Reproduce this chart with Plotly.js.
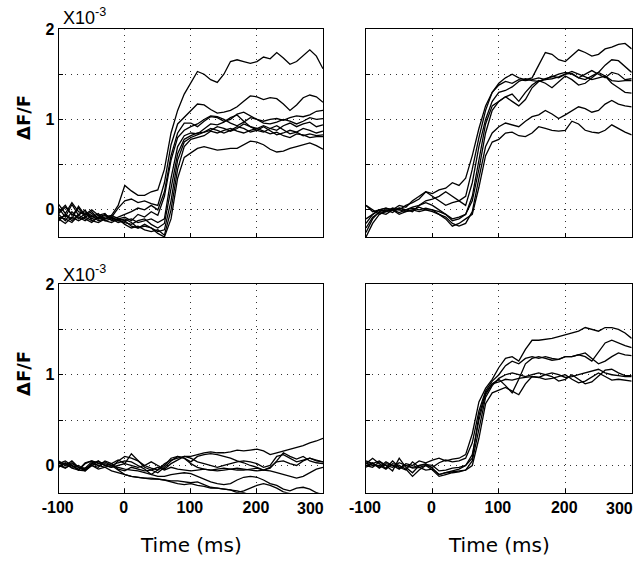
<!DOCTYPE html>
<html>
<head>
<meta charset="utf-8">
<script src="https://cdn.plot.ly/plotly-3.0.1.min.js"></script>
<style>html,body{margin:0;padding:0;background:#fff;}#chart{width:638px;height:563px;}</style>
</head>
<body>
<div id="chart"></div>
<script>
// Time axis (ms)
const time = [-100,-90,-80,-70,-60,-50,-40,-30,-20,-10,0,10,20,30,40,50,60,70,80,90,100,110,120,130,140,150,160,170,180,190,200,210,220,230,240,250,260,270,280,290,300];

// Tick labels
const xTickVals = [-100, 0, 100, 200];
const xTickText = ['-100', '0', '100', '200'];
const xGridVals = [0, 100, 200];
const xLastTick = 300;
const xLastText = '300';
const yTickVals = [0, 1, 2];
const yTickText = ['0', '1', '2'];
const yMinorVals = [0.5, 1.5];

// Top-left panel traces (ΔF/F, x10^-3)
const topLeft1 = [-0.02,0.05,-0.06,0.02,-0.08,-0.04,-0.1,-0.08,-0.06,0.05,0.27,0.21,0.16,0.16,0.2,0.22,0.45,0.85,1.1,1.28,1.4,1.53,1.5,1.44,1.41,1.5,1.64,1.66,1.64,1.62,1.64,1.69,1.67,1.74,1.68,1.61,1.64,1.7,1.77,1.7,1.56];
const topLeft2 = [0.06,-0.04,0.08,-0.02,-0.05,0.0,-0.06,-0.1,-0.08,0.02,0.1,0.12,0.08,0.1,0.07,0.05,0.3,0.72,0.95,1.02,1.1,1.17,1.16,1.11,1.07,1.08,1.1,1.14,1.2,1.26,1.25,1.22,1.24,1.23,1.17,1.1,1.16,1.24,1.27,1.25,1.19];
const topLeft3 = [-0.1,-0.06,-0.12,-0.05,-0.02,-0.08,-0.04,-0.12,-0.1,-0.08,-0.05,-0.02,0.02,0.0,0.05,0.0,0.2,0.6,0.85,0.96,0.96,0.92,0.98,1.03,1.02,0.98,1.0,1.06,1.08,1.04,1.0,0.98,1.0,1.01,0.99,1.02,1.04,1.03,1.05,1.09,1.1];
const topLeft4 = [-0.05,-0.12,-0.02,-0.1,-0.04,-0.1,-0.06,-0.04,-0.12,-0.1,-0.08,-0.12,-0.05,-0.08,-0.02,-0.06,0.15,0.55,0.8,0.88,0.92,0.95,1.0,1.04,1.03,1.0,0.96,0.93,0.97,1.02,1.0,0.96,0.95,0.97,1.0,0.98,0.95,0.98,1.02,1.0,1.01];
const topLeft5 = [0.02,-0.08,0.06,-0.06,0.0,-0.12,-0.08,-0.05,-0.1,-0.14,-0.12,-0.1,-0.14,-0.12,-0.1,-0.14,-0.1,0.35,0.7,0.82,0.85,0.84,0.9,0.95,0.94,0.97,1.02,1.05,0.98,0.92,0.9,0.93,0.9,0.88,0.93,0.96,0.92,0.95,0.97,0.92,0.94];
const topLeft6 = [-0.12,-0.05,-0.1,0.04,-0.06,-0.02,-0.1,-0.06,-0.08,-0.12,-0.14,-0.16,-0.12,-0.1,-0.16,-0.2,-0.15,0.25,0.62,0.78,0.82,0.85,0.86,0.88,0.92,0.9,0.87,0.9,0.95,0.92,0.88,0.86,0.9,0.93,0.88,0.84,0.86,0.9,0.88,0.85,0.87];
const topLeft7 = [-0.04,0.03,-0.05,-0.08,-0.12,-0.06,-0.12,-0.1,-0.06,-0.1,-0.12,-0.18,-0.2,-0.18,-0.2,-0.24,-0.22,0.1,0.55,0.75,0.8,0.83,0.86,0.9,0.88,0.85,0.88,0.92,0.9,0.86,0.88,0.92,0.87,0.83,0.85,0.88,0.86,0.82,0.84,0.82,0.83];
const topLeft8 = [-0.08,-0.1,-0.14,-0.06,-0.1,-0.14,-0.08,-0.12,-0.14,-0.1,-0.16,-0.2,-0.18,-0.22,-0.24,-0.22,-0.28,0.0,0.45,0.7,0.78,0.8,0.82,0.87,0.85,0.88,0.9,0.87,0.85,0.88,0.9,0.87,0.84,0.86,0.82,0.8,0.84,0.83,0.8,0.81,0.81];
const topLeft9 = [-0.1,-0.15,-0.08,-0.12,-0.08,-0.12,-0.14,-0.1,-0.08,-0.12,-0.1,-0.14,-0.2,-0.16,-0.2,-0.26,-0.3,-0.1,0.35,0.58,0.63,0.68,0.7,0.68,0.66,0.67,0.68,0.68,0.72,0.76,0.75,0.72,0.67,0.64,0.65,0.68,0.7,0.72,0.74,0.71,0.67];

// Top-right panel traces
const topRight1 = [0.05,-0.02,0.0,0.02,0.0,0.05,0.03,0.1,0.15,0.2,0.18,0.22,0.24,0.3,0.27,0.35,0.6,0.9,1.15,1.3,1.4,1.46,1.5,1.46,1.44,1.46,1.6,1.74,1.72,1.66,1.64,1.7,1.77,1.74,1.7,1.72,1.78,1.8,1.83,1.84,1.78];
const topRight2 = [-0.15,-0.05,0.0,-0.02,0.02,0.0,0.05,0.08,0.12,0.2,0.15,0.1,0.05,0.08,0.1,0.15,0.45,0.8,1.1,1.3,1.38,1.42,1.4,1.44,1.43,1.44,1.46,1.44,1.48,1.46,1.5,1.51,1.46,1.44,1.48,1.52,1.6,1.66,1.65,1.58,1.52];
const topRight3 = [-0.25,-0.1,-0.02,0.0,-0.03,0.02,0.0,0.03,0.05,0.1,0.12,0.15,0.2,0.15,0.1,0.05,0.3,0.7,1.0,1.2,1.3,1.32,1.36,1.42,1.45,1.43,1.42,1.45,1.47,1.5,1.52,1.5,1.46,1.5,1.54,1.5,1.46,1.52,1.5,1.44,1.45];
const topRight4 = [0.05,0.0,-0.05,-0.02,0.0,0.02,0.0,-0.02,0.05,0.08,0.05,0.0,-0.05,-0.1,-0.08,-0.05,0.15,0.55,0.95,1.15,1.2,1.25,1.2,1.15,1.22,1.35,1.42,1.44,1.45,1.47,1.5,1.53,1.5,1.47,1.44,1.46,1.48,1.43,1.42,1.43,1.43];
const topRight5 = [-0.3,-0.15,-0.05,0.0,0.0,-0.03,0.0,0.02,0.0,0.02,0.0,-0.02,-0.05,-0.12,-0.1,-0.05,0.1,0.45,0.85,1.1,1.2,1.25,1.28,1.2,1.3,1.38,1.43,1.4,1.35,1.42,1.48,1.44,1.38,1.4,1.46,1.52,1.48,1.4,1.35,1.3,1.29];
const topRight6 = [-0.2,-0.08,-0.03,-0.05,0.0,0.0,-0.02,0.0,0.03,0.0,-0.02,-0.05,-0.08,-0.15,-0.18,-0.15,-0.02,0.35,0.7,0.85,0.92,0.96,0.94,0.92,0.98,1.03,1.05,1.1,1.06,1.01,1.05,1.1,1.14,1.12,1.08,1.1,1.17,1.21,1.17,1.15,1.14];
const topRight7 = [-0.1,-0.05,0.0,0.02,0.0,-0.05,-0.02,0.0,-0.02,0.0,0.0,-0.05,-0.1,-0.18,-0.15,-0.1,-0.05,0.25,0.6,0.75,0.78,0.85,0.86,0.82,0.81,0.85,0.92,0.9,0.88,0.87,0.88,0.98,0.95,0.88,0.86,0.85,0.88,0.94,0.9,0.86,0.83];

// Bottom-left panel traces
const bottomLeft1 = [0.02,0.05,0.0,-0.05,0.02,0.05,0.03,0.0,-0.02,0.05,0.1,0.08,0.05,0.0,-0.03,-0.05,0.02,0.06,0.08,0.1,0.1,0.12,0.14,0.15,0.14,0.14,0.15,0.17,0.16,0.17,0.18,0.16,0.12,0.14,0.16,0.18,0.2,0.22,0.25,0.27,0.3];
const bottomLeft2 = [0.05,0.0,0.03,-0.02,-0.05,0.0,0.05,0.0,-0.02,0.0,0.02,0.13,0.05,-0.02,-0.05,-0.08,-0.02,0.05,0.1,0.08,0.04,0.1,0.12,0.13,0.12,0.1,0.08,0.05,0.03,0.0,-0.02,-0.05,-0.03,0.05,0.14,0.1,0.07,0.1,0.05,0.03,0.02];
const bottomLeft3 = [-0.02,0.03,0.0,-0.05,-0.06,0.02,0.0,-0.02,-0.06,-0.08,-0.1,-0.12,-0.13,-0.14,-0.14,-0.15,-0.16,-0.18,-0.2,-0.21,-0.2,-0.22,-0.23,-0.25,-0.25,-0.26,-0.27,-0.3,-0.28,-0.25,-0.22,-0.2,-0.22,-0.25,-0.29,-0.31,-0.33,-0.35,-0.33,-0.3,-0.32];
const bottomLeft4 = [0.0,-0.03,0.02,-0.02,-0.06,0.0,-0.02,0.05,0.02,-0.04,-0.06,-0.02,-0.04,-0.06,-0.05,-0.02,-0.05,-0.02,-0.04,-0.05,-0.06,-0.05,-0.04,-0.05,-0.04,-0.03,-0.04,-0.05,-0.05,-0.04,-0.03,-0.05,-0.06,-0.08,-0.1,-0.12,-0.14,-0.12,-0.08,-0.04,-0.02];
const bottomLeft5 = [0.0,0.02,-0.03,-0.05,0.03,0.05,0.02,0.04,0.0,0.03,0.05,0.04,0.0,-0.04,-0.1,-0.05,0.0,0.08,0.1,0.08,0.02,-0.02,-0.04,-0.05,-0.06,-0.05,-0.04,-0.03,-0.04,-0.05,-0.06,-0.05,-0.02,0.04,0.05,0.02,0.0,0.05,0.08,0.06,0.04];
const bottomLeft6 = [0.03,0.0,0.05,-0.02,-0.03,0.04,0.0,0.02,0.0,-0.05,-0.1,-0.12,-0.13,-0.14,-0.15,-0.15,-0.16,-0.17,-0.17,-0.18,-0.19,-0.18,-0.21,-0.24,-0.25,-0.26,-0.27,-0.28,-0.3,-0.33,-0.35,-0.35,-0.36,-0.36,-0.36,-0.36,-0.36,-0.36,-0.36,-0.36,-0.36];
const bottomLeft7 = [0.0,-0.02,0.0,-0.04,-0.03,0.0,-0.04,-0.02,0.0,-0.02,-0.04,-0.05,-0.06,-0.08,-0.1,-0.12,-0.12,-0.1,-0.09,-0.08,-0.09,-0.12,-0.15,-0.18,-0.2,-0.21,-0.2,-0.16,-0.13,-0.12,-0.13,-0.16,-0.2,-0.22,-0.26,-0.28,-0.25,-0.24,-0.26,-0.3,-0.34];
const bottomLeft8 = [0.04,0.02,-0.02,0.0,-0.05,0.02,0.05,0.0,0.02,0.06,0.02,0.0,-0.02,0.0,0.04,0.0,-0.04,0.02,0.06,0.1,0.08,0.04,0.02,0.0,-0.02,0.0,0.02,0.04,0.05,0.04,0.02,-0.02,0.0,0.1,0.12,0.08,0.04,0.06,0.08,0.05,0.04];

// Bottom-right panel traces
const bottomRight1 = [0.05,0.02,-0.02,0.04,0.0,-0.04,0.02,0.0,0.05,0.03,0.06,0.08,0.05,0.07,0.08,0.12,0.35,0.7,0.85,0.95,1.08,1.18,1.2,1.15,1.28,1.38,1.38,1.39,1.4,1.42,1.44,1.46,1.48,1.52,1.5,1.48,1.52,1.52,1.5,1.46,1.4];
const bottomRight2 = [0.02,0.08,0.02,-0.03,0.05,-0.02,-0.05,0.04,-0.02,0.0,-0.02,0.03,0.06,0.04,0.05,0.08,0.25,0.6,0.82,0.93,1.0,1.1,1.15,1.12,1.18,1.2,1.18,1.2,1.18,1.17,1.2,1.2,1.22,1.2,1.15,1.25,1.35,1.38,1.35,1.32,1.3];
const bottomRight3 = [0.0,-0.02,0.04,0.0,-0.06,0.08,-0.02,-0.08,0.0,0.02,-0.03,-0.1,-0.08,-0.06,-0.04,0.0,0.12,0.5,0.78,0.9,0.95,0.88,0.8,0.95,1.12,1.18,1.2,1.18,1.16,1.17,1.2,1.2,1.22,1.24,1.18,1.12,1.15,1.2,1.24,1.22,1.21];
const bottomRight4 = [0.03,0.0,0.0,-0.04,0.02,0.0,-0.04,-0.12,-0.05,0.0,-0.05,-0.12,-0.1,-0.08,-0.07,-0.05,0.05,0.42,0.75,0.88,0.96,1.0,1.02,1.0,0.98,1.0,1.02,1.0,0.98,0.93,0.95,1.0,0.95,0.9,0.92,0.98,1.05,1.06,1.02,0.99,0.99];
const bottomRight5 = [-0.02,0.02,0.05,0.0,-0.02,0.03,0.0,-0.03,-0.02,-0.05,-0.04,-0.1,-0.08,-0.07,-0.06,-0.05,0.0,0.3,0.68,0.8,0.83,0.86,0.82,0.78,0.9,0.98,0.97,0.95,0.96,0.98,1.0,0.95,0.91,0.93,0.98,1.02,0.98,0.94,0.95,0.94,0.93];
const bottomRight6 = [0.0,0.03,-0.03,0.02,0.0,-0.02,0.0,-0.02,0.0,0.01,0.0,-0.06,-0.05,-0.03,-0.02,0.0,0.08,0.55,0.8,0.9,0.92,0.95,0.94,0.96,0.97,0.98,0.97,1.0,1.02,1.0,0.97,0.98,1.0,1.02,1.04,1.06,1.02,1.0,0.99,0.98,0.98];

const panels = [
  {xa: 'x',  ya: 'y',  series: [topLeft1, topLeft2, topLeft3, topLeft4, topLeft5, topLeft6, topLeft7, topLeft8, topLeft9]},
  {xa: 'x2', ya: 'y2', series: [topRight1, topRight2, topRight3, topRight4, topRight5, topRight6, topRight7]},
  {xa: 'x3', ya: 'y3', series: [bottomLeft1, bottomLeft2, bottomLeft3, bottomLeft4, bottomLeft5, bottomLeft6, bottomLeft7, bottomLeft8]},
  {xa: 'x4', ya: 'y4', series: [bottomRight1, bottomRight2, bottomRight3, bottomRight4, bottomRight5, bottomRight6]}
];

const traces = [];
panels.forEach(p => {
  p.series.forEach(s => {
    traces.push({
      x: time, y: s, xaxis: p.xa, yaxis: p.ya,
      type: 'scatter', mode: 'lines',
      line: {color: '#000', width: 1.3},
      hoverinfo: 'skip', showlegend: false
    });
  });
});

const W = 638, H = 563;
const colX = [[58.7 / W, 323 / W], [366 / W, 631.7 / W]];
const rowY = [[(H - 237) / H, (H - 29) / H], [(H - 492.7) / H, (H - 284) / H]];

const tickFont = {family: 'Liberation Sans', size: 16, color: '#000', weight: 'bold'};
const GRID_DASH = '1px,5px';

function xAxis(dom, showLabels, anchor) {
  return {
    domain: dom, anchor: anchor, range: [-100, 300],
    tickmode: 'array', tickvals: xTickVals, ticktext: xTickText,
    showticklabels: showLabels, tickfont: tickFont,
    ticklabelshift: -1,
    ticks: 'inside', ticklen: 4, tickcolor: '#000',
    showline: true, linecolor: '#000', linewidth: 1.2, mirror: true,
    showgrid: true, gridcolor: '#333', gridwidth: 1, griddash: GRID_DASH,
    zeroline: false, fixedrange: true
  };
}
function yAxis(dom, showLabels, anchor) {
  return {
    domain: dom, anchor: anchor, range: [-0.3, 2],
    tickmode: 'array', tickvals: yTickVals, ticktext: yTickText,
    showticklabels: showLabels, tickfont: tickFont,
    ticks: 'inside', ticklen: 4, tickcolor: '#000',
    minor: {tickmode: 'array', tickvals: yMinorVals, ticks: 'inside', ticklen: 4, tickcolor: '#000',
            showgrid: true, gridcolor: '#333', gridwidth: 1, griddash: GRID_DASH},
    showline: true, linecolor: '#000', linewidth: 1.2, mirror: true,
    showgrid: true, gridcolor: '#333', gridwidth: 1, griddash: GRID_DASH,
    zeroline: false, fixedrange: true
  };
}

const expFont = {family: 'Liberation Sans', size: 18, color: '#000'};
const labelFont = {family: 'DejaVu Sans', size: 18, color: '#000', weight: 'bold'};
const titleFont = {family: 'DejaVu Sans', size: 20, color: '#000'};
const tickLabelY = (H - 508) / H;

const layout = {
  width: W, height: H,
  margin: {l: 0, r: 0, t: 0, b: 0},
  paper_bgcolor: '#fff', plot_bgcolor: '#fff',
  showlegend: false,
  xaxis: xAxis(colX[0], false, 'y'),
  yaxis: yAxis(rowY[0], true, 'x'),
  xaxis2: xAxis(colX[1], false, 'y2'),
  yaxis2: yAxis(rowY[0], false, 'x2'),
  xaxis3: xAxis(colX[0], true, 'y3'),
  yaxis3: yAxis(rowY[1], true, 'x3'),
  xaxis4: xAxis(colX[1], true, 'y4'),
  yaxis4: yAxis(rowY[1], false, 'x4'),
  annotations: [
    {xref: 'paper', yref: 'paper', x: 62 / W, y: (H - 29) / H, xanchor: 'left', yanchor: 'bottom', text: 'X10<sup>-3</sup>', showarrow: false, font: expFont, borderpad: 0},
    {xref: 'paper', yref: 'paper', x: 62 / W, y: (H - 286) / H, xanchor: 'left', yanchor: 'bottom', text: 'X10<sup>-3</sup>', showarrow: false, font: expFont, borderpad: 0},
    {xref: 'paper', yref: 'paper', x: 23 / W, y: (H - 118) / H, xanchor: 'center', yanchor: 'middle', text: 'ΔF/F', textangle: -90, showarrow: false, font: labelFont},
    {xref: 'paper', yref: 'paper', x: 23 / W, y: (H - 374) / H, xanchor: 'center', yanchor: 'middle', text: 'ΔF/F', textangle: -90, showarrow: false, font: labelFont},
    {xref: 'paper', yref: 'paper', x: 191 / W, y: (H - 545) / H, xanchor: 'center', yanchor: 'middle', text: 'Time (ms)', showarrow: false, font: titleFont},
    {xref: 'paper', yref: 'paper', x: 499 / W, y: (H - 545) / H, xanchor: 'center', yanchor: 'middle', text: 'Time (ms)', showarrow: false, font: titleFont},
    {xref: 'x3', yref: 'paper', x: xLastTick, y: tickLabelY, xanchor: 'right', yanchor: 'middle', xshift: 2, text: xLastText, showarrow: false, font: tickFont, borderpad: 0},
    {xref: 'x4', yref: 'paper', x: xLastTick, y: tickLabelY, xanchor: 'right', yanchor: 'middle', xshift: 2, text: xLastText, showarrow: false, font: tickFont, borderpad: 0}
  ]
};

Plotly.newPlot('chart', traces, layout, {displayModeBar: false, staticPlot: true});
</script>
</body>
</html>
